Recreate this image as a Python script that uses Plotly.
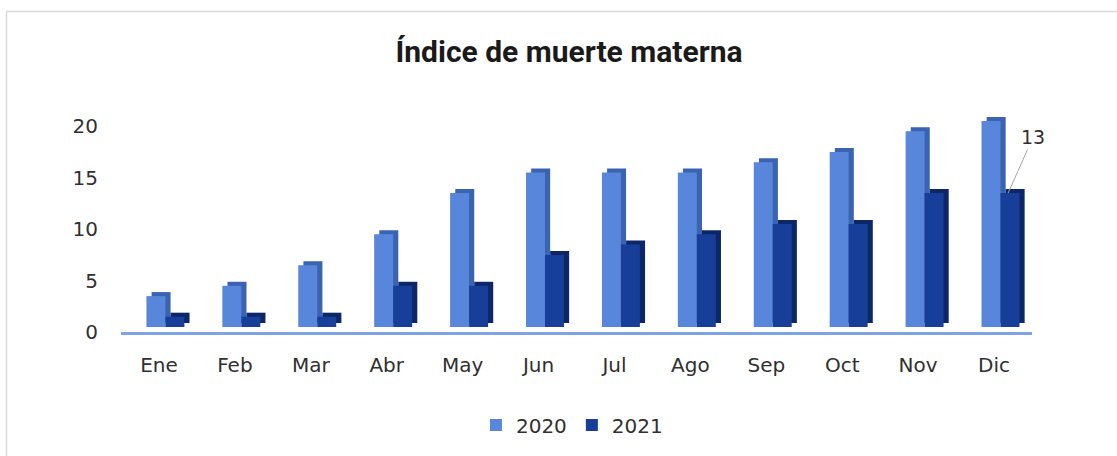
import plotly.graph_objects as go

months = ["Ene", "Feb", "Mar", "Abr", "May", "Jun", "Jul", "Ago", "Sep", "Oct", "Nov", "Dic"]
v2020 = [3, 4, 6, 9, 13, 15, 15, 15, 16, 17, 19, 20]
v2021 = [1, 1, 1, 4, 4, 7, 8, 9, 10, 10, 13, 13]
y_ticks = [0, 5, 10, 15, 20]
label_month = "Dic"
label_value = 13

W, H = 1117, 456
L, R, T, B = 121, 85, 110, 124
plot_h = H - T - B
px_per_unit = 10.3
ymax = plot_h / px_per_unit
shift = 5 / px_per_unit           # bars sit a few px above the axis line
dx, dy = 0.068, 0.39              # pseudo-3D depth offsets

c20_front, c20_side = "#5886DA", "#3A63B2"
c21_front, c21_side = "#173E98", "#0D2766"
font_fam = "DejaVu Sans"
txt_col = "#303030"

fig = go.Figure()
for vals, name, off, cf, cs in [(v2020, "2020", -0.165, c20_front, c20_side),
                                 (v2021, "2021", 0.085, c21_front, c21_side)]:
    fig.add_trace(go.Bar(x=months, y=vals, base=[dy] * len(vals), offset=off + dx, width=0.25,
                         marker=dict(color=cs, line=dict(width=0)),
                         showlegend=False, hoverinfo="skip"))
    fig.add_trace(go.Bar(x=months, y=vals, offset=off, width=0.25, name=name,
                         marker=dict(color=cf, line=dict(width=0))))

fig.add_annotation(x=months.index(label_month) + 0.185, y=label_value, xref="x", yref="y",
                   text=str(label_value), showarrow=True, arrowhead=0, arrowwidth=1,
                   arrowcolor="#A6A6A6", ax=25, ay=-56,
                   font=dict(family=font_fam, size=19, color=txt_col))

pw = W - L - R
fig.add_shape(type="rect", xref="paper", yref="paper",
              x0=(6.5 - L) / pw, x1=(1200 - L) / pw,
              y0=(H - B - 500) / plot_h, y1=(H - B - 11.5) / plot_h,
              line=dict(color="#D9D9D9", width=1.5), fillcolor="rgba(0,0,0,0)", layer="below")

fig.update_layout(
    width=W, height=H, margin=dict(l=L, r=R, t=T, b=B),
    paper_bgcolor="white", plot_bgcolor="white",
    barmode="overlay",
    title=dict(text="<b>Índice de muerte materna</b>", x=569 / W, xref="container", xanchor="center",
               y=1 - 51 / H, yref="container", yanchor="middle",
               font=dict(family="Roboto", size=30, color="#1A1A1A")),
    xaxis=dict(type="category", range=[-0.5, 11.5], showgrid=False, zeroline=False,
               showline=True, linecolor="#7EA3E2", linewidth=3, ticks="",
               ticklabelstandoff=13, tickfont=dict(family=font_fam, size=20, color=txt_col)),
    yaxis=dict(range=[-shift, ymax - shift], tickvals=y_ticks, showgrid=False, zeroline=False,
               showline=False, ticks="", ticklabelstandoff=22, ticklabelshift=5,
               tickfont=dict(family=font_fam, size=20, color=txt_col)),
    legend=dict(orientation="h", x=0.495, xanchor="center", y=(H - B - 425) / plot_h, yanchor="middle",
                font=dict(family=font_fam, size=20, color=txt_col), itemwidth=30,
                traceorder="normal"),
    showlegend=True,
)

fig.write_html("out.html", config={"displayModeBar": False},
               post_script="document.body.style.margin='0';")
